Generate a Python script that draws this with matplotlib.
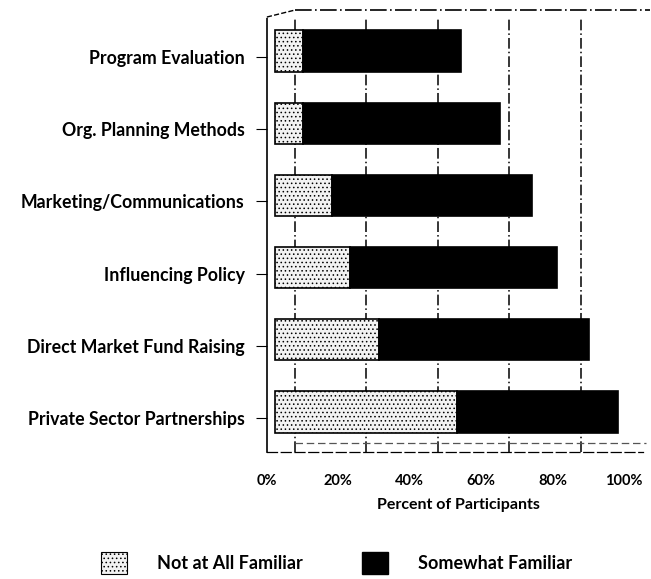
import matplotlib
matplotlib.use("Agg")
import matplotlib.pyplot as plt
import matplotlib.transforms as mtrans
from matplotlib.patches import Patch

categories = ["Program Evaluation", "Org. Planning Methods", "Marketing/Communications",
              "Influencing Policy", "Direct Market Fund Raising", "Private Sector Partnerships"]
not_at_all = [8, 8, 16, 21, 29, 51]
somewhat = [44, 55, 56, 58, 59, 45]
x_ticks = [0, 20, 40, 60, 80, 100]
x_tick_labels = ["0%", "20%", "40%", "60%", "80%", "100%"]
legend_labels = ["Not at All Familiar", "Somewhat Familiar"]

plt.rcParams['font.family'] = ['Lato', 'DejaVu Sans']
plt.rcParams['hatch.linewidth'] = 0.6

LIGHT = "#f2f2f2"
back_shift = 5.6  # depth offset of the back wall, in data units

fig = plt.figure(figsize=(6.51, 5.79), dpi=100)
ax = fig.add_axes([0.410, 0.2193, 0.588, 0.7513])

y = list(range(len(categories)))
ax.barh(y, not_at_all, height=0.57, color=LIGHT, edgecolor="black", hatch="....",
        linewidth=1.2, zorder=3)
ax.barh(y, somewhat, left=not_at_all, height=0.57, color="black", edgecolor="black",
        linewidth=1.2, zorder=3)

ax.set_xlim(-2.24, 104.9)
ax.set_ylim(5.554, -0.471)

# back wall gridlines (pseudo 3D look)
for v in x_ticks[:-1]:
    ax.axvline(v + back_shift, color="black", lw=1.1, ls=(0, (7, 2, 1, 2)), zorder=1)
xt = ax.get_xaxis_transform()
ax.plot([back_shift, 104.9], [1.016, 1.016], transform=xt, clip_on=False,
        color="black", lw=1.2, ls=(0, (10, 2, 1, 2)))
ax.plot([-2.24, back_shift], [1.0, 1.016], transform=xt, clip_on=False,
        color="black", lw=1.0, ls="--")
ax.plot([back_shift, 104], [0.021, 0.021], transform=xt, clip_on=False,
        color="#555555", lw=0.9, ls=(0, (6, 3)))

for s in ["top", "right"]:
    ax.spines[s].set_visible(False)
ax.spines["left"].set_linestyle((0, (6, 1, 1, 1)))
ax.spines["left"].set_linewidth(1.2)
ax.spines["bottom"].set_linestyle((0, (8, 3)))
ax.spines["bottom"].set_linewidth(0.9)
ax.spines["bottom"].set_bounds(-2.24, 103)

ax.set_xticks(x_ticks, x_tick_labels)
ax.tick_params(axis="x", length=0, pad=16, labelsize=10.5)
for lbl in ax.get_xticklabels():
    lbl.set_fontweight("bold")
    lbl.set_transform(lbl.get_transform() + mtrans.ScaledTranslation(-0.08, 0, fig.dpi_scale_trans))

ax.set_yticks(y, categories)
ax.tick_params(axis="y", length=8, width=0.8, pad=8, labelsize=12.8)
ydown = mtrans.ScaledTranslation(0, -0.06, fig.dpi_scale_trans)
for tick in ax.yaxis.get_major_ticks():
    tick.label1.set_fontweight("bold")
    tick.label1.set_transform(tick.label1.get_transform() + ydown)
    tick.tick1line.set_transform(tick.tick1line.get_transform() + ydown)

ax.set_xlabel("Percent of Participants", fontsize=11.5, fontweight="bold", labelpad=7)

handles = [Patch(facecolor=LIGHT, edgecolor="black", hatch="....", linewidth=0.8),
           Patch(facecolor="black", edgecolor="black")]
fig.legend(handles, legend_labels, loc="center", bbox_to_anchor=(0.517, 0.027), ncol=2,
           frameon=False, prop={"size": 13, "weight": "bold"}, handlelength=1.45,
           handleheight=1.5, handletextpad=1.66, columnspacing=3.3, borderpad=0)

fig.savefig("out.png", dpi=100)
